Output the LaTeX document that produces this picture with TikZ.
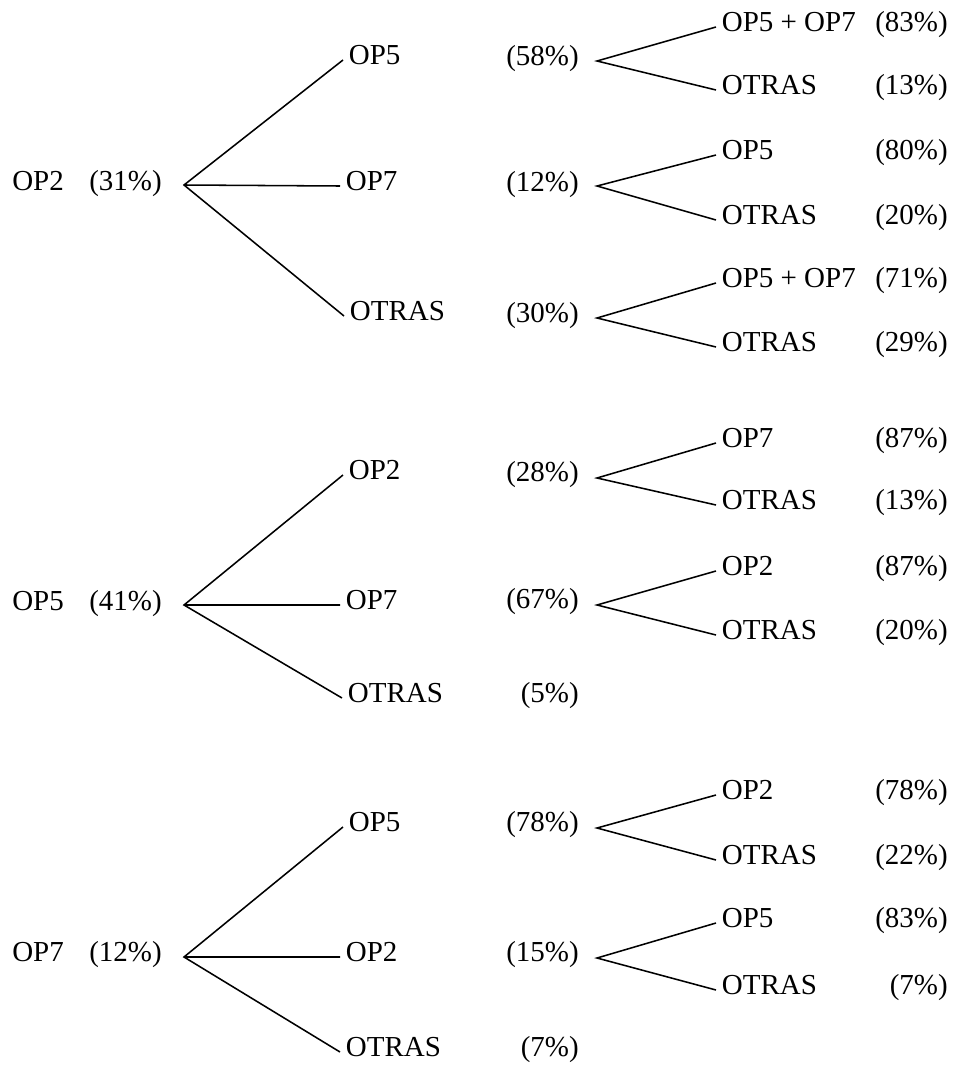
\documentclass[tikz,border=0pt]{standalone}
\usepackage{fontspec}
\setmainfont{Liberation Serif}

\tikzset{
  txt/.style={inner sep=0pt,text height=0.68em,text depth=0pt,font=\fontsize{20.6}{24}\selectfont},
  lab/.style={txt,anchor=west,inner xsep=4pt},
  pct/.style={txt,anchor=east},
  branch/.style={line width=1.1pt}
}

\begin{document}
\begin{tikzpicture}[x=0.025cm,y=-0.025cm]
\useasboundingbox (0,0) rectangle (955,1066);

% OP2
\node[lab,inner xsep=0pt] (r1) at (12,186) {OP2};
\node[pct] (r1p) at (162,186) {(31\%)};
\coordinate (t1) at (184,185);
\node[lab] (a1) at (343,60) {OP5};
\node[lab] (a2) at (340,186) {OP7};
\node[lab] (a3) at (344,316) {OTRAS};
\node[pct] (a1p) at (579,61) {(58\%)};
\node[pct] (a2p) at (579,187) {(12\%)};
\node[pct] (a3p) at (579,318) {(30\%)};
\coordinate (u1) at (597,61);
\coordinate (u2) at (597,186);
\coordinate (u3) at (597,318);
\node[lab] (b1) at (716,27) {OP5 + OP7};
\node[pct] (b1p) at (948,27) {(83\%)};
\node[lab] (b2) at (716,90) {OTRAS};
\node[pct] (b2p) at (948,90) {(13\%)};
\node[lab] (b3) at (716,155) {OP5};
\node[pct] (b3p) at (948,155) {(80\%)};
\node[lab] (b4) at (716,220) {OTRAS};
\node[pct] (b4p) at (948,220) {(20\%)};
\node[lab] (b5) at (716,283) {OP5 + OP7};
\node[pct] (b5p) at (948,283) {(71\%)};
\node[lab] (b6) at (716,347) {OTRAS};
\node[pct] (b6p) at (948,347) {(29\%)};
\draw[branch] (a1.west) -- (t1) -- (a3.west) (t1) -- (a2.west);
\draw[branch] (b1.west) -- (u1) -- (b2.west);
\draw[branch] (b3.west) -- (u2) -- (b4.west);
\draw[branch] (b5.west) -- (u3) -- (b6.west);

% OP5
\node[lab,inner xsep=0pt] (r2) at (12,606) {OP5};
\node[pct] (r2p) at (162,606) {(41\%)};
\coordinate (t2) at (184,605);
\node[lab] (c1) at (343,475) {OP2};
\node[lab] (c2) at (340,605) {OP7};
\node[lab] (c3) at (342,698) {OTRAS};
\node[pct] (c1p) at (579,477) {(28\%)};
\node[pct] (c2p) at (579,604) {(67\%)};
\node[pct] (c3p) at (579,698) {(5\%)};
\coordinate (v1) at (597,478);
\coordinate (v2) at (597,605);
\node[lab] (d1) at (716,443) {OP7};
\node[pct] (d1p) at (948,443) {(87\%)};
\node[lab] (d2) at (716,505) {OTRAS};
\node[pct] (d2p) at (948,505) {(13\%)};
\node[lab] (d3) at (716,571) {OP2};
\node[pct] (d3p) at (948,571) {(87\%)};
\node[lab] (d4) at (716,635) {OTRAS};
\node[pct] (d4p) at (948,635) {(20\%)};
\draw[branch] (c1.west) -- (t2) -- (c3.west) (t2) -- (c2.west);
\draw[branch] (d1.west) -- (v1) -- (d2.west);
\draw[branch] (d3.west) -- (v2) -- (d4.west);

% OP7
\node[lab,inner xsep=0pt] (r3) at (12,957) {OP7};
\node[pct] (r3p) at (162,957) {(12\%)};
\coordinate (t3) at (184,957);
\node[lab] (e1) at (343,827) {OP5};
\node[lab] (e2) at (340,957) {OP2};
\node[lab] (e3) at (340,1052) {OTRAS};
\node[pct] (e1p) at (579,827) {(78\%)};
\node[pct] (e2p) at (579,957) {(15\%)};
\node[pct] (e3p) at (579,1052) {(7\%)};
\coordinate (w1) at (597,828);
\coordinate (w2) at (597,958);
\node[lab] (f1) at (716,795) {OP2};
\node[pct] (f1p) at (948,795) {(78\%)};
\node[lab] (f2) at (716,860) {OTRAS};
\node[pct] (f2p) at (948,860) {(22\%)};
\node[lab] (f3) at (716,923) {OP5};
\node[pct] (f3p) at (948,923) {(83\%)};
\node[lab] (f4) at (716,990) {OTRAS};
\node[pct] (f4p) at (948,990) {(7\%)};
\draw[branch] (e1.west) -- (t3) -- (e3.west) (t3) -- (e2.west);
\draw[branch] (f1.west) -- (w1) -- (f2.west);
\draw[branch] (f3.west) -- (w2) -- (f4.west);
\end{tikzpicture}
\end{document}
